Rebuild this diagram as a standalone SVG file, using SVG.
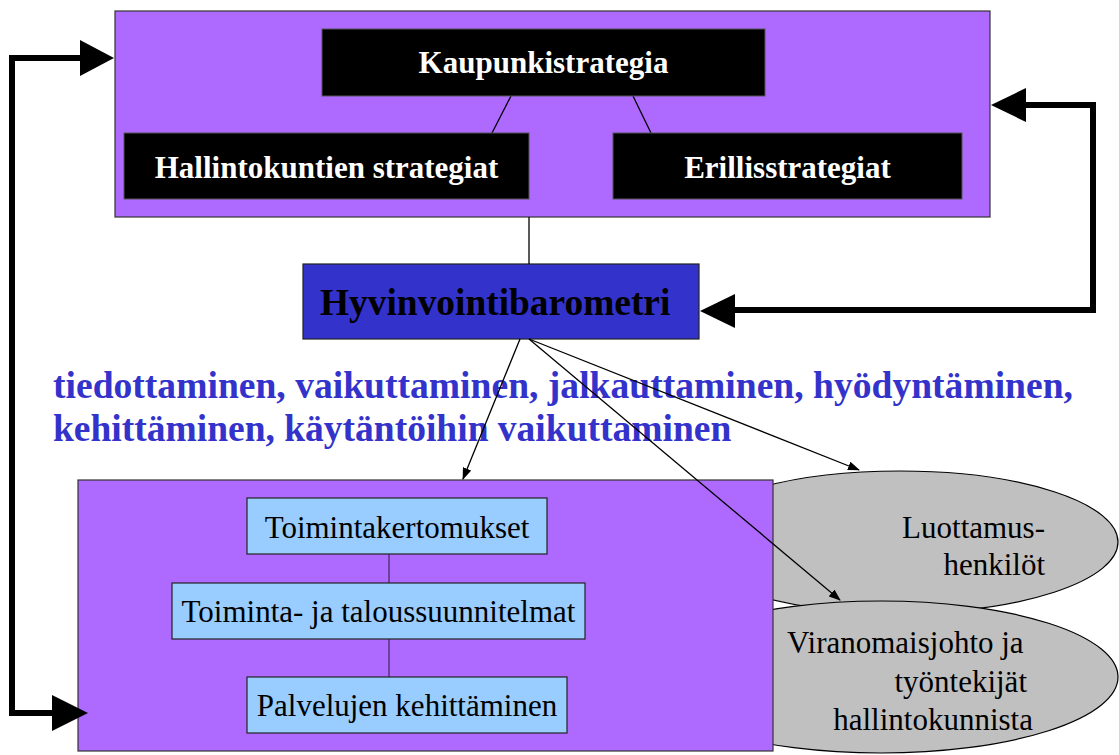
<svg xmlns="http://www.w3.org/2000/svg" width="1119" height="755" viewBox="0 0 1119 755">
<defs>
<style>
.purple{fill:#AE69FF;stroke:#333;stroke-width:1.2}
.blk{fill:#000;stroke:#555;stroke-width:1}
.lb{fill:#99CCFF;stroke:#222;stroke-width:1.2}
.ell{fill:#C0C0C0;stroke:#000;stroke-width:1.2}
.wb{font-family:"Liberation Serif","Times New Roman",serif;font-weight:bold;font-size:31px;fill:#fff;text-anchor:middle}
.nt{font-family:"Liberation Serif","Times New Roman",serif;font-size:31px;fill:#000}
.blue{font-family:"Liberation Serif","Times New Roman",serif;font-weight:bold;font-size:37.5px;fill:#3333CC}
.thin{stroke:#000;stroke-width:1.3;fill:none}
.thick{stroke:#000;stroke-width:6;fill:none;stroke-linejoin:miter}
.inner{stroke:#4A2A6A;stroke-width:1.3;fill:none}
</style>
<marker id="ah" markerWidth="12" markerHeight="9" refX="11" refY="4.5" orient="auto" markerUnits="userSpaceOnUse">
<path d="M0,0 L12,4.5 L0,9 z" fill="#000"/>
</marker>
</defs>
<rect width="1119" height="755" fill="#fff"/>

<g id="luottamus">
<ellipse class="ell" cx="900" cy="542" rx="218" ry="71"/>
<text class="nt" x="1045" y="538" text-anchor="end">Luottamus-</text>
<text class="nt" x="1045" y="575" text-anchor="end">henkilöt</text>
</g>
<g id="viranomais">
<ellipse class="ell" cx="881" cy="677" rx="237" ry="76"/>
<text class="nt" x="787" y="653">Viranomaisjohto ja</text>
<text class="nt" x="1027" y="692" text-anchor="end">työntekijät</text>
<text class="nt" x="1033" y="730" text-anchor="end">hallintokunnista</text>
</g>

<g id="lower-box">
<rect class="purple" x="78" y="480" width="695" height="271"/>
<line class="inner" x1="389" y1="554" x2="389" y2="583"/>
<line class="inner" x1="389" y1="639" x2="389" y2="677"/>
</g>
<g id="toimintakertomukset">
<rect class="lb" x="247" y="498" width="300" height="56"/>
<text class="nt" x="397" y="538" text-anchor="middle">Toimintakertomukset</text>
</g>
<g id="toiminta-talous">
<rect class="lb" x="172" y="583" width="413" height="56"/>
<text class="nt" x="378.5" y="622" text-anchor="middle">Toiminta- ja taloussuunnitelmat</text>
</g>
<g id="palvelujen">
<rect class="lb" x="247" y="677" width="320" height="56"/>
<text class="nt" x="407" y="716" text-anchor="middle">Palvelujen kehittäminen</text>
</g>

<g id="top-box">
<rect class="purple" x="115" y="11" width="875" height="206"/>
<line class="thin" x1="511" y1="96" x2="492" y2="133"/>
<line class="thin" x1="633" y1="96" x2="651" y2="133"/>
</g>
<g id="kaupunkistrategia">
<rect class="blk" x="322" y="29" width="443" height="67"/>
<text class="wb" x="543.5" y="73">Kaupunkistrategia</text>
</g>
<g id="hallintokuntien">
<rect class="blk" x="124" y="133" width="405" height="66"/>
<text class="wb" x="326.5" y="178">Hallintokuntien strategiat</text>
</g>
<g id="erillis">
<rect class="blk" x="613" y="133" width="349" height="66"/>
<text class="wb" x="787.5" y="178">Erillisstrategiat</text>
</g>

<g id="hyvinvointibarometri">
<rect x="303" y="264" width="396" height="75" fill="#3333CC" stroke="#222" stroke-width="1.2"/>
<text x="320" y="315" font-family="Liberation Serif, Times New Roman, serif" font-weight="bold" font-size="37.4px" fill="#000">Hyvinvointibarometri</text>
</g>

<g id="label-text">
<text class="blue" x="53" y="398" textLength="1020" lengthAdjust="spacingAndGlyphs">tiedottaminen, vaikuttaminen, jalkauttaminen, hyödyntäminen,</text>
<text class="blue" x="53" y="441">kehittäminen, käytäntöihin vaikuttaminen</text>
</g>

<g id="connectors">
<line class="thin" x1="529" y1="217" x2="529" y2="264"/>
<line class="thin" x1="520" y1="339" x2="463" y2="479" marker-end="url(#ah)"/>
<line class="thin" x1="529" y1="339" x2="859" y2="470" marker-end="url(#ah)"/>
<line class="thin" x1="529" y1="339" x2="840" y2="600" marker-end="url(#ah)"/>
<polyline class="thick" points="82,58 12,58 12,713 54,713"/>
<polygon points="114,58 80,40 80,76" fill="#000"/>
<polygon points="88,713 52,695 52,731" fill="#000"/>
<polyline class="thick" points="733,310 1093,310 1093,105 1024,105"/>
<polygon points="991,105 1026,88 1026,122" fill="#000"/>
<polygon points="700,311 735,294 735,328" fill="#000"/>
</g>
</svg>
